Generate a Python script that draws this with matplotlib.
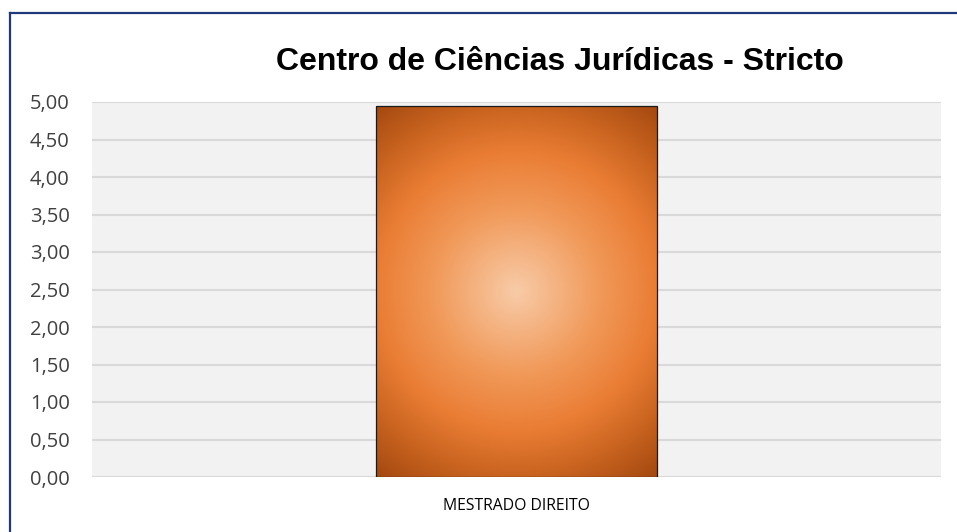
import numpy as np
import matplotlib
matplotlib.use("Agg")
import matplotlib.pyplot as plt
from matplotlib.colors import LinearSegmentedColormap
from matplotlib.lines import Line2D

categories = ["MESTRADO DIREITO"]
values = [4.95]
yticks = [0, 0.5, 1, 1.5, 2, 2.5, 3, 3.5, 4, 4.5, 5]
ytick_labels = ["0,00", "0,50", "1,00", "1,50", "2,00", "2,50", "3,00", "3,50", "4,00", "4,50", "5,00"]
title = "Centro de Ciências Jurídicas - Stricto"

W, H = 957, 532
fig = plt.figure(figsize=(W / 100, H / 100), dpi=100)
fig.patch.set_facecolor("white")
ax = fig.add_axes([92 / W, 1 - 477 / H, (941 - 92) / W, (477 - 102) / H])
ax.set_facecolor("#f2f2f2")

x = np.arange(len(categories))
bw = 0.33
bars = ax.bar(x, values, width=bw, color="none", edgecolor="#1a1a1a", linewidth=0.9, zorder=3)

ax.set_xlim(-0.5, 0.5)
ax.set_ylim(0, 5)

cmap = LinearSegmentedColormap.from_list(
    "rad",
    [(0.0, "#f8cba8"), (0.35, "#f19a5a"), (0.6, "#ea7d34"), (0.8, "#c8631f"), (1.0, "#a44810")],
)
for b in bars:
    x0, w, h = b.get_x(), b.get_width(), b.get_height()
    p0 = ax.transData.transform((x0, 0))
    p1 = ax.transData.transform((x0 + w, h))
    pw, ph = abs(p1[0] - p0[0]), abs(p1[1] - p0[1])
    nx, ny = 300, 400
    gx = np.linspace(-pw / 2, pw / 2, nx)
    gy = np.linspace(-ph / 2, ph / 2, ny)
    X, Y = np.meshgrid(gx, gy)
    R = np.sqrt(X ** 2 + Y ** 2) / np.sqrt((pw / 2) ** 2 + (ph / 2) ** 2)
    im = ax.imshow(R, cmap=cmap, vmin=0, vmax=1, extent=(x0, x0 + w, 0, h),
                   origin="lower", aspect="auto", zorder=2, interpolation="bilinear")
    im.set_clip_path(b)

ax.set_yticks(yticks)
ax.set_yticklabels(ytick_labels, fontsize=14.5, color="#404040", family="Open Sans")
ax.set_xticks(x)
ax.set_xticklabels(categories, fontsize=11.3, color="#000000", family="Open Sans")
ax.tick_params(axis="y", length=0, pad=16)
ax.tick_params(axis="x", length=0, pad=15)
ax.grid(axis="y", color="#d9d9d9", linewidth=1.5, zorder=1)
ax.set_axisbelow(True)
for s in ax.spines.values():
    s.set_visible(False)

fig.text(560 / W, 1 - 62 / H, title, ha="center", va="center", fontsize=23,
         fontweight="bold", family="Liberation Sans", color="#000000")

ytop = 1 - 12.5 / H
xl = 9.5 / W
fig.add_artist(Line2D([xl, xl], [0, ytop], transform=fig.transFigure, color="#1f3a78", linewidth=1.6))
fig.add_artist(Line2D([xl, 1], [ytop, ytop], transform=fig.transFigure, color="#1f3a78", linewidth=1.6))

fig.savefig("out.png", dpi=100)
